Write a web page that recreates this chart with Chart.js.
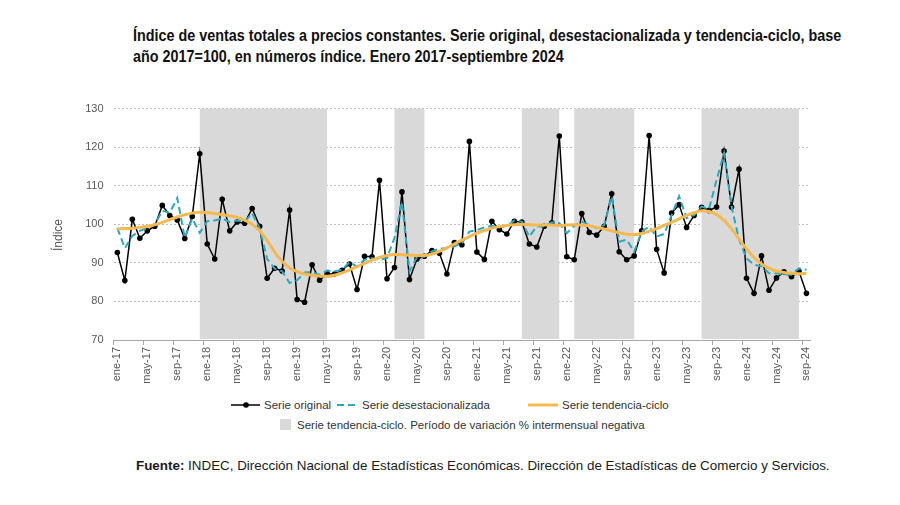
<!DOCTYPE html>
<html><head><meta charset="utf-8">
<script src="https://cdn.jsdelivr.net/npm/chart.js@4.4.1/dist/chart.umd.min.js"></script>
<style>
html,body{margin:0;padding:0;background:#fff;}
#wrap{position:relative;width:900px;height:505px;overflow:hidden;background:#fff;}
#title{position:absolute;left:133px;top:25px;font-family:"Liberation Sans",Arial,sans-serif;font-weight:bold;font-size:17px;line-height:21px;color:#111;white-space:nowrap;transform:scaleX(0.845);transform-origin:0 0;}
#cwrap{position:absolute;left:0;top:92px;width:900px;height:303px;}
#ytitle{position:absolute;left:58px;top:235px;transform:translate(-50%,-50%) rotate(-90deg);font-family:"Liberation Sans",Arial,sans-serif;font-size:12px;color:#595959;white-space:nowrap;}
.leg{position:absolute;font-family:"Liberation Sans",Arial,sans-serif;font-size:11.5px;color:#333;white-space:nowrap;line-height:14px;}
.sw{position:absolute;}
#foot{position:absolute;left:136px;top:458px;font-family:"Liberation Sans",Arial,sans-serif;font-size:13.4px;color:#1a1a1a;white-space:nowrap;}
</style></head>
<body>
<div id="wrap">
  <div id="title">Índice de ventas totales a precios constantes. Serie original, desestacionalizada y tendencia-ciclo, base<br>año 2017=100, en números índice. Enero 2017-septiembre 2024</div>
  <div id="cwrap"><canvas id="c" width="900" height="303"></canvas></div>
  <div id="ytitle">Índice</div>

  <svg class="sw" style="left:231px;top:400px" width="29" height="10"><line x1="0" y1="5" x2="29" y2="5" stroke="#000" stroke-width="1.5"/><circle cx="15" cy="5" r="2.8" fill="#000"/></svg>
  <div class="leg" style="left:264px;top:398px">Serie original</div>
  <svg class="sw" style="left:337px;top:400px" width="22" height="10"><line x1="0" y1="5" x2="22" y2="5" stroke="#29a9c1" stroke-width="2" stroke-dasharray="7,4"/></svg>
  <div class="leg" style="left:362px;top:398px">Serie desestacionalizada</div>
  <svg class="sw" style="left:528px;top:400px" width="30" height="10"><line x1="0" y1="5" x2="30" y2="5" stroke="#f5b94f" stroke-width="3"/></svg>
  <div class="leg" style="left:562px;top:398px">Serie tendencia-ciclo</div>
  <div class="sw" style="left:280px;top:419px;width:11px;height:11px;background:#d9d9d9"></div>
  <div class="leg" style="left:297px;top:418px">Serie tendencia-ciclo. Período de variación % intermensual negativa</div>

  <div id="foot"><b>Fuente:</b> INDEC, Dirección Nacional de Estadísticas Económicas. Dirección de Estadísticas de Comercio y Servicios.</div>
</div>
<script>
const monthNames = ['ene','feb','mar','abr','may','jun','jul','ago','sep','oct','nov','dic'];
const years = ['17','18','19','20','21','22','23','24'];
const categories = [];
years.forEach(y => monthNames.forEach(m => categories.push(m + '-' + y)));
categories.length = 93; // ene-17 .. sep-24

const serieOriginal = [
  92.7, 85.4, 101.3, 96.4, 98.3, 99.5, 104.9, 102.3, 101.1, 96.3, 102.0, 118.3,
  94.9, 91.0, 106.5, 98.3, 100.6, 100.3, 104.1, 99.5, 86.0, 88.6, 87.9, 103.7,
  80.5, 79.8, 89.5, 85.5, 87.2, 87.1, 88.1, 89.7, 83.1, 91.7, 91.6, 111.4,
  85.9, 88.8, 108.4, 85.7, 91.0, 91.7, 93.2, 92.5, 87.1, 95.3, 94.7, 121.5,
  92.8, 90.9, 100.8, 98.6, 97.5, 100.8, 100.6, 94.9, 94.1, 99.5, 100.4, 122.9,
  91.6, 90.8, 102.8, 97.9, 97.2, 99.5, 107.9, 92.9, 90.8, 91.8, 98.3, 123.0,
  93.5, 87.4, 102.9, 105.1, 99.2, 102.3, 104.4, 103.6, 104.5, 119.0, 104.5, 114.3,
  86.0, 82.1, 91.8, 82.9, 86.1, 87.7, 86.4, 87.8, 82.1
];
const serieDesest = [
  99.0, 93.8, 97.0, 98.3, 99.0, 100.0, 103.5, 103.0, 106.8, 96.5, 101.5, 97.8,
  100.8, 101.0, 101.5, 100.6, 101.0, 100.7, 102.8, 99.0, 91.0, 88.5, 87.8, 84.8,
  85.5, 87.5, 87.6, 86.9, 88.0, 87.8, 88.2, 90.2, 89.0, 90.8, 91.2, 90.8,
  91.2, 96.5, 105.8, 87.8, 91.5, 91.6, 93.0, 93.7, 93.8, 94.3, 95.1, 98.1,
  98.5, 99.2, 99.6, 99.2, 99.6, 101.0, 100.7, 96.8, 99.5, 99.4, 100.5, 100.3,
  97.7, 99.6, 100.7, 99.8, 99.0, 99.8, 107.2, 95.5, 96.0, 92.9, 98.1, 99.4,
  96.8, 97.5, 102.4, 107.3, 101.6, 102.4, 104.6, 104.0, 111.5, 118.4, 104.6, 96.0,
  91.2, 89.5, 89.1, 87.3, 87.3, 87.0, 86.9, 88.6, 88.2
];
const serieTendencia = [
  98.8, 98.9, 99.0, 99.2, 99.5, 99.9, 100.5, 101.2, 101.9, 102.5, 102.9, 103.1,
  103.0, 102.8, 102.5, 102.2, 101.8, 101.1, 100.0, 98.3, 95.8, 92.8, 90.4, 88.7,
  87.7, 87.1, 86.8, 86.6, 86.5, 86.8, 87.4, 88.2, 89.0, 89.9, 90.7, 91.4,
  91.9, 92.2, 92.1, 92.0, 91.9, 91.9, 92.3, 93.0, 93.9, 94.9, 95.9, 96.8,
  97.7, 98.4, 99.0, 99.4, 99.7, 99.9, 100.0, 99.9, 99.8, 99.8, 99.8, 99.7,
  99.8, 99.9, 99.8, 99.6, 99.2, 98.8, 98.3, 97.8, 97.4, 97.3, 97.6, 98.2,
  98.9, 99.7, 100.5, 101.4, 102.3, 103.0, 103.5, 103.3, 102.5, 101.0, 98.8, 96.2,
  93.6, 91.4, 89.7, 88.6, 87.9, 87.5, 87.3, 87.2, 87.3
];
const yTicks = [70, 80, 90, 100, 110, 120, 130];
const shadeStart = ['dic-17', 'feb-20', 'jul-21', 'feb-22', 'jul-23'];
const shadeEnd   = ['may-19', 'jun-20', 'dic-21', 'oct-22', 'ago-24'];

const shadePlugin = {
  id: 'shade',
  beforeDatasetsDraw(chart) {
    const {ctx, chartArea, scales} = chart;
    const x = scales.x;
    ctx.save();
    ctx.fillStyle = '#d9d9d9';
    shadeStart.forEach((s, k) => {
      const x0 = x.getPixelForValue(categories.indexOf(s));
      const x1 = x.getPixelForValue(categories.indexOf(shadeEnd[k]));
      ctx.fillRect(x0, chartArea.top, x1 - x0, chartArea.bottom - chartArea.top - 1);
    });
    ctx.restore();
  }
};

const tickCol = c => (c.index % 4 === 0 ? '#a6a6a6' : 'rgba(0,0,0,0)');

new Chart(document.getElementById('c'), {
  type: 'line',
  data: {
    labels: categories,
    datasets: [
      {label: 'Serie original', data: serieOriginal, borderColor: '#000', backgroundColor: '#000',
       borderWidth: 1.5, pointRadius: 2.8, pointBorderWidth: 0, pointBackgroundColor: '#000', tension: 0, order: 3},
      {label: 'Serie desestacionalizada', data: serieDesest, borderColor: '#29a9c1', borderWidth: 2,
       borderDash: [7, 4], pointRadius: 0, tension: 0, order: 2},
      {label: 'Serie tendencia-ciclo', data: serieTendencia, borderColor: '#f5b94f', borderWidth: 3,
       pointRadius: 0, cubicInterpolationMode: 'monotone', order: 1}
    ]
  },
  options: {
    responsive: false, animation: false, devicePixelRatio: 1,
    layout: {padding: {left: 0, right: 89.8, top: 0, bottom: 0}},
    plugins: {legend: {display: false}, tooltip: {enabled: false}},
    scales: {
      x: {
        type: 'category', offset: true,
        grid: {offset: true, drawOnChartArea: false, drawTicks: true, tickLength: 5, color: tickCol, tickColor: tickCol},
        border: {display: true, color: '#a6a6a6'},
        ticks: {autoSkip: false, maxRotation: 90, minRotation: 90, padding: 2, color: '#595959',
                font: {family: 'Liberation Sans', size: 11},
                callback: (v, i) => (i % 4 === 0 ? categories[i] : '')},
        afterFit: s => { s.height = 55; }
      },
      y: {
        min: yTicks[0], max: yTicks[yTicks.length - 1],
        afterBuildTicks: s => { s.ticks = yTicks.map(v => ({value: v})); },
        ticks: {padding: 10, color: '#595959', font: {family: 'Liberation Sans', size: 11}},
        grid: {color: '#bfbfbf', drawTicks: false, lineWidth: 1},
        border: {display: false, dash: [2, 2]},
        afterFit: s => { s.width = 113.6; }
      }
    }
  },
  plugins: [shadePlugin]
});
</script>
</body></html>
